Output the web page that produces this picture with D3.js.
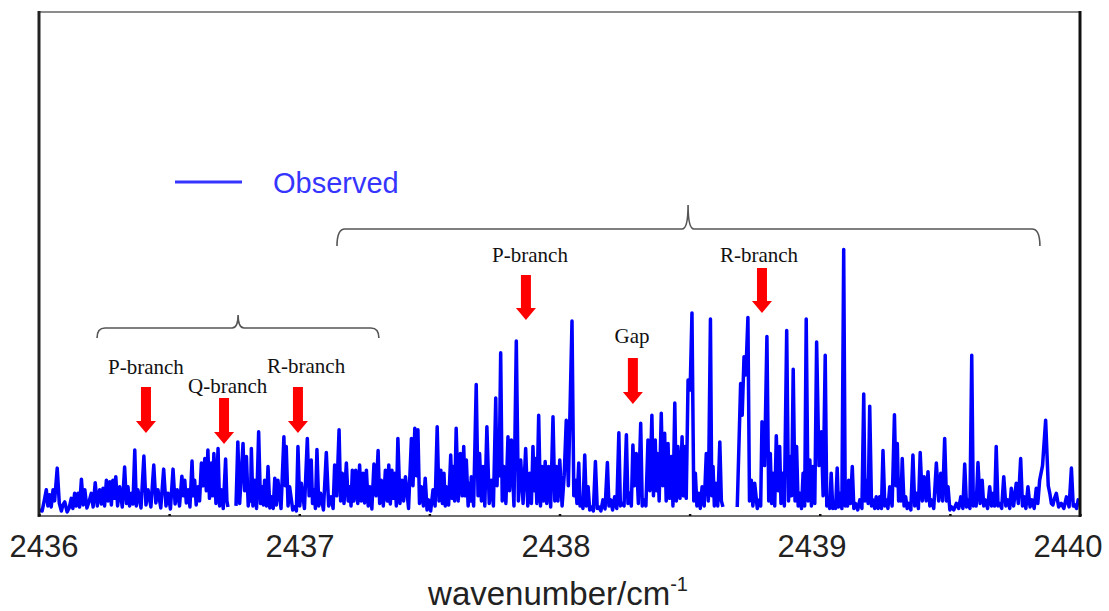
<!DOCTYPE html>
<html>
<head>
<meta charset="utf-8">
<script src="https://cdn.jsdelivr.net/npm/d3@7"></script>
<style>
  html, body { margin: 0; padding: 0; background: #fff; }
  svg { display: block; }
</style>
</head>
<body>
<div id="chart"></div>
<script>
// spectrum traces, [wavenumber, intensity (a.u.)], three pieces separated by data gaps
const segmentA = [
  [2436.000,1.2],[2436.012,1.0],[2436.020,3.0],[2436.028,5.2],[2436.034,2.0],[2436.041,4.2],[2436.047,1.8],[2436.054,5.2],[2436.060,3.0],[2436.070,9.5],
  [2436.078,2.5],[2436.086,1.0],[2436.092,2.2],[2436.099,2.8],[2436.108,0.8],[2436.116,1.6],[2436.124,3.5],[2436.130,1.5],[2436.137,4.5],[2436.143,2.0],
  [2436.150,4.5],[2436.156,1.8],[2436.163,7.3],[2436.170,2.2],[2436.176,5.2],[2436.184,1.6],[2436.192,2.8],[2436.201,4.5],[2436.208,1.8],[2436.216,6.6],
  [2436.224,2.0],[2436.233,5.2],[2436.240,2.4],[2436.246,5.5],[2436.252,2.0],[2436.259,7.1],[2436.265,3.0],[2436.272,6.8],[2436.278,2.2],[2436.284,7.1],
  [2436.290,3.5],[2436.295,7.8],[2436.302,2.0],[2436.310,5.8],[2436.320,1.8],[2436.329,9.7],[2436.336,2.5],[2436.342,5.8],[2436.348,2.0],[2436.355,4.5],
  [2436.361,2.4],[2436.368,13.1],[2436.374,2.0],[2436.380,5.2],[2436.392,1.6],[2436.403,11.9],[2436.411,2.2],[2436.419,5.2],[2436.430,1.8],[2436.441,10.1],
  [2436.449,2.6],[2436.457,5.2],[2436.468,1.6],[2436.479,9.3],[2436.488,2.0],[2436.496,4.5],[2436.505,1.4],[2436.515,9.3],[2436.523,2.4],[2436.531,5.2],
  [2436.540,2.0],[2436.549,7.9],[2436.555,4.0],[2436.560,7.1],[2436.566,2.6],[2436.573,5.2],[2436.580,1.8],[2436.588,10.9],[2436.593,4.0],[2436.598,7.1],
  [2436.604,2.2],[2436.611,5.8],[2436.617,3.0],[2436.624,10.5],[2436.630,6.0],[2436.637,11.4],[2436.643,5.0],[2436.649,13.1],[2436.655,3.5],[2436.662,10.5],
  [2436.667,4.0],[2436.672,12.4],[2436.680,2.5],[2436.688,13.4],[2436.694,2.0],[2436.700,5.2],[2436.708,1.5],[2436.717,11.3],[2436.722,3.0],[2436.726,1.8]
];

const segmentB = [
  [2436.757,2.0],[2436.764,14.7],[2436.771,2.5],[2436.784,14.4],[2436.790,5.0],[2436.797,11.8],[2436.804,2.0],[2436.810,5.2],[2436.813,3.0],[2436.816,13.4],
  [2436.822,2.0],[2436.829,7.1],[2436.836,1.5],[2436.844,16.7],[2436.851,2.5],[2436.857,5.8],[2436.862,2.2],[2436.867,7.1],[2436.874,2.0],[2436.880,9.8],
  [2436.887,1.6],[2436.893,3.8],[2436.900,1.5],[2436.906,7.5],[2436.912,2.2],[2436.918,7.1],[2436.930,1.5],[2436.941,15.7],[2436.946,6.0],[2436.950,13.8],
  [2436.957,2.0],[2436.963,5.8],[2436.975,1.2],[2436.983,1.8],[2436.989,1.0],[2436.995,13.8],[2437.002,2.0],[2437.008,6.5],[2437.020,1.5],[2437.031,15.4],
  [2437.038,4.0],[2437.046,11.1],[2437.051,2.5],[2437.057,5.2],[2437.062,1.5],[2437.068,13.2],[2437.075,2.0],[2437.082,4.5],[2437.093,1.2],[2437.104,12.6],
  [2437.113,2.0],[2437.123,3.8],[2437.130,1.5],[2437.136,10.1],[2437.144,4.0],[2437.153,17.1],[2437.159,3.0],[2437.165,8.5],[2437.172,2.5],[2437.181,10.5],
  [2437.188,3.0],[2437.194,5.8],[2437.199,2.0],[2437.204,9.1],[2437.210,3.0],[2437.217,9.1],[2437.225,2.5],[2437.232,10.1],[2437.238,3.0],[2437.245,8.5],
  [2437.251,2.6],[2437.258,9.1],[2437.265,2.0],[2437.271,5.8],[2437.279,1.4],[2437.287,10.3],[2437.295,4.0],[2437.303,13.0],[2437.309,2.5],[2437.315,7.1],
  [2437.323,2.0],[2437.331,9.1],[2437.338,3.0],[2437.344,10.1],[2437.350,2.4],[2437.356,9.1],[2437.362,3.5],[2437.367,8.5],[2437.373,2.0],[2437.379,15.4],
  [2437.387,2.5],[2437.395,7.1],[2437.401,3.0],[2437.408,7.8],[2437.420,1.5],[2437.431,15.4],[2437.437,6.0],[2437.444,17.4],[2437.450,8.0],[2437.456,17.1],
  [2437.462,2.5],[2437.469,5.8],[2437.477,2.0],[2437.484,7.5],[2437.491,1.2],[2437.497,3.2],[2437.505,1.0],[2437.514,5.2],[2437.522,2.0],[2437.530,17.7],
  [2437.537,3.0],[2437.544,9.1],[2437.550,2.5],[2437.556,8.5],[2437.561,2.0],[2437.565,5.8],[2437.574,2.2],[2437.582,12.1],[2437.587,3.5],[2437.591,9.8],
  [2437.597,3.0],[2437.603,17.4],[2437.611,3.0],[2437.619,12.4],[2437.626,4.0],[2437.632,13.8],[2437.637,4.0],[2437.642,11.1],[2437.649,2.0],[2437.655,6.5],
  [2437.658,3.0],[2437.661,7.8],[2437.670,2.0],[2437.680,26.1],[2437.687,4.0],[2437.693,12.4],[2437.700,3.0],[2437.706,9.8],[2437.713,2.0],[2437.721,17.7],
  [2437.730,2.5],[2437.738,7.1],[2437.746,2.0],[2437.755,23.4],[2437.760,6.0],[2437.764,15.1],[2437.768,8.0],[2437.774,32.4],[2437.780,3.0],[2437.786,9.8],
  [2437.794,2.5],[2437.802,15.7],[2437.808,5.0],[2437.815,15.1],[2437.825,2.0],[2437.834,34.7],[2437.842,3.0],[2437.851,11.1],[2437.860,2.5],[2437.870,13.4],
  [2437.878,2.0],[2437.886,8.5],[2437.892,2.5],[2437.898,13.8],[2437.903,5.0],[2437.907,11.4],[2437.913,2.5],[2437.920,20.0],[2437.927,2.0],[2437.933,9.8],
  [2437.939,3.0],[2437.945,10.8],[2437.951,2.5],[2437.958,9.8],[2437.966,1.8],[2437.975,19.7],[2437.982,3.0],[2437.988,9.8],[2437.994,3.0],[2438.001,11.1],
  [2438.010,2.0],[2438.018,8.0],[2438.026,19.0],[2438.034,6.0],[2438.048,38.7],[2438.055,4.0],[2438.061,7.1],[2438.067,2.5],[2438.074,10.5],[2438.079,2.0],
  [2438.084,3.2],[2438.090,1.5],[2438.097,12.1],[2438.103,2.0],[2438.110,5.8],[2438.116,1.2],[2438.122,1.8],[2438.130,1.0],[2438.138,10.8],[2438.145,1.5],
  [2438.151,1.8],[2438.159,1.0],[2438.167,3.2],[2438.175,1.4],[2438.184,10.6],[2438.190,2.0],[2438.197,3.2],[2438.204,1.2],[2438.212,3.8],[2438.220,1.5],
  [2438.228,16.5],[2438.234,2.0],[2438.240,2.5],[2438.248,2.0],[2438.257,16.1],[2438.263,2.5],[2438.270,4.5],[2438.276,2.0],[2438.282,14.1],[2438.288,6.0],
  [2438.295,12.4],[2438.303,2.5],[2438.312,18.4],[2438.318,2.0],[2438.325,3.2],[2438.332,2.0],[2438.340,15.1],[2438.347,5.0],[2438.355,20.0],[2438.361,4.0],
  [2438.368,15.1],[2438.372,5.0],[2438.376,12.4],[2438.383,3.0],[2438.391,20.4],[2438.397,6.0],[2438.404,16.4],[2438.410,3.0],[2438.417,14.4],[2438.423,3.5],
  [2438.430,11.8],[2438.436,2.0],[2438.443,22.4],[2438.449,3.0],[2438.455,13.8],[2438.463,3.5],[2438.471,15.7],[2438.476,4.0],[2438.481,13.8],[2438.487,3.5],
  [2438.494,27.0],[2438.502,25.0],[2438.509,40.3],[2438.516,3.0],[2438.522,8.5],[2438.528,2.0],[2438.535,4.5],[2438.541,1.5],[2438.548,5.8],[2438.556,2.0],
  [2438.564,12.4],[2438.572,3.0],[2438.580,39.1],[2438.585,4.0],[2438.590,9.8],[2438.595,2.0],[2438.600,6.5],[2438.608,2.0],[2438.616,14.7],[2438.622,3.0],
  [2438.628,1.8]
];

const segmentC = [
  [2438.683,1.8],[2438.696,26.3],[2438.702,20.0],[2438.709,31.6],[2438.716,28.0],[2438.724,39.4],[2438.730,3.0],[2438.737,7.1],[2438.743,2.0],[2438.750,6.5],
  [2438.760,1.5],[2438.769,3.2],[2438.773,2.0],[2438.778,18.7],[2438.788,10.0],[2438.797,35.6],[2438.804,3.0],[2438.810,12.4],[2438.815,2.5],[2438.820,8.5],
  [2438.827,2.0],[2438.833,15.9],[2438.840,5.0],[2438.846,13.8],[2438.851,2.5],[2438.856,8.5],[2438.864,2.0],[2438.873,36.8],[2438.880,3.0],[2438.887,11.8],
  [2438.892,4.0],[2438.898,29.1],[2438.905,3.0],[2438.911,13.8],[2438.917,2.0],[2438.923,4.5],[2438.930,1.5],[2438.936,8.5],[2438.942,2.0],[2438.948,39.1],
  [2438.955,3.0],[2438.962,11.1],[2438.968,2.0],[2438.974,9.8],[2438.981,2.5],[2438.988,34.5],[2438.997,10.0],[2439.006,16.7],[2439.013,4.0],[2439.021,31.9],
  [2439.027,2.0],[2439.032,3.2],[2439.038,1.5],[2439.044,8.5],[2439.050,1.5],[2439.055,2.5],[2439.061,1.5],[2439.067,9.5],[2439.072,1.8],[2439.077,4.5],
  [2439.085,1.5],[2439.092,52.9],[2439.098,2.0],[2439.102,4.5],[2439.107,2.0],[2439.111,7.1],[2439.118,2.5],[2439.125,9.8],[2439.131,1.5],[2439.137,2.5],
  [2439.146,1.2],[2439.154,3.2],[2439.162,1.5],[2439.169,24.2],[2439.174,3.0],[2439.179,7.1],[2439.186,2.5],[2439.192,21.8],[2439.199,2.0],[2439.205,3.2],
  [2439.211,1.5],[2439.217,3.8],[2439.224,1.5],[2439.230,3.8],[2439.237,1.5],[2439.243,13.0],[2439.250,2.0],[2439.256,3.2],[2439.262,1.5],[2439.269,5.8],
  [2439.278,2.0],[2439.287,20.1],[2439.293,6.0],[2439.298,14.4],[2439.303,3.0],[2439.307,7.1],[2439.312,3.0],[2439.317,11.4],[2439.324,2.0],[2439.330,3.8],
  [2439.336,1.5],[2439.342,2.5],[2439.350,1.2],[2439.358,12.1],[2439.365,2.0],[2439.371,4.5],[2439.379,1.5],[2439.386,12.6],[2439.394,3.0],[2439.401,7.8],
  [2439.409,3.0],[2439.416,8.8],[2439.423,2.0],[2439.429,3.2],[2439.438,1.5],[2439.448,10.5],[2439.457,3.0],[2439.465,8.5],[2439.472,3.0],[2439.480,15.4],
  [2439.487,3.0],[2439.493,5.8],[2439.500,1.2],[2439.506,1.8],[2439.515,1.2],[2439.525,2.5],[2439.534,1.5],[2439.542,3.8],[2439.550,1.5],[2439.557,10.3],
  [2439.564,1.8],[2439.570,3.2],[2439.577,1.5],[2439.584,31.9],[2439.590,2.0],[2439.595,4.5],[2439.601,2.0],[2439.608,10.6],[2439.616,2.5],[2439.624,7.1],
  [2439.630,2.0],[2439.636,3.2],[2439.645,1.5],[2439.653,5.8],[2439.660,2.0],[2439.666,4.5],[2439.672,2.0],[2439.678,13.8],[2439.685,2.0],[2439.691,2.5],
  [2439.699,1.5],[2439.707,7.8],[2439.715,2.0],[2439.723,3.2],[2439.730,1.5],[2439.736,5.5],[2439.745,2.0],[2439.755,6.5],[2439.763,2.5],[2439.772,11.4],
  [2439.779,2.0],[2439.785,3.8],[2439.792,1.5],[2439.800,5.8],[2439.808,1.8],[2439.816,3.2],[2439.824,1.5],[2439.832,5.5],[2439.838,2.5],[2439.845,7.1],
  [2439.856,10.0],[2439.868,19.0],[2439.878,6.0],[2439.884,4.5],[2439.890,2.5],[2439.896,2.2],[2439.902,3.5],[2439.909,4.5],[2439.918,1.8],[2439.928,2.5],
  [2439.938,1.5],[2439.948,3.8],[2439.958,1.8],[2439.967,9.5],[2439.974,2.0],[2439.980,2.2],[2439.987,1.5],[2439.993,3.2],[2440.000,2.2]
];

const tickValues = [2436, 2436.5, 2437, 2437.5, 2438, 2438.5, 2439, 2439.5, 2440];
const tickLabels = [2436, 2437, 2438, 2439, 2440];

// annotations (wavenumber positions of the arrows / braces)
const arrowsAt = [2436.411, 2436.711, 2436.995, 2437.871, 2438.282, 2438.778];
const bracketSmall = [2436.223, 2436.765, 2437.306];
const bracketBig = [2437.145, 2438.494, 2439.846];

const width = 1109, height = 611;
const svg = d3.select("#chart").append("svg").attr("width", width).attr("height", height);

const x = d3.scaleLinear().domain([2436, 2440]).range([39, 1080]);
const y = d3.scaleLinear().domain([0, 100]).range([516, 12]);
// the tick numbers sit a bit inside the frame ends in the original
const xLabel = d3.scaleLinear().domain([2436, 2440]).range([44, 1068]);

svg.append("defs").append("clipPath").attr("id", "plot")
    .append("rect").attr("x", 39).attr("y", 12).attr("width", 1041).attr("height", 503);

const line = d3.line().x(d => x(d[0])).y(d => y(d[1]));
svg.append("g").attr("clip-path", "url(#plot)")
    .selectAll("path").data([segmentA, segmentB, segmentC]).enter().append("path")
    .attr("d", line).attr("fill", "none").attr("stroke", "#0000ff")
    .attr("stroke-width", 3.5).attr("stroke-linejoin", "round");

// frame
svg.append("line").attr("x1", 38).attr("x2", 1081).attr("y1", 12).attr("y2", 12).attr("stroke", "#8c8c8c").attr("stroke-width", 2);
svg.append("line").attr("x1", 38).attr("x2", 1081).attr("y1", 516).attr("y2", 516).attr("stroke", "#6e6e6e").attr("stroke-width", 2);
svg.append("line").attr("x1", 39).attr("x2", 39).attr("y1", 11).attr("y2", 517).attr("stroke", "#222").attr("stroke-width", 3);
svg.append("line").attr("x1", 1080).attr("x2", 1080).attr("y1", 11).attr("y2", 517).attr("stroke", "#111").attr("stroke-width", 3);

const axis = svg.append("g").attr("transform", "translate(0,516)")
    .call(d3.axisBottom(x).tickValues(tickValues).tickSize(-2).tickFormat(""));
axis.select(".domain").remove();
axis.selectAll(".tick line").attr("stroke", "#111").attr("stroke-width", 2.5);

svg.selectAll(".tlabel").data(tickLabels).enter().append("text")
    .attr("class", "tlabel").attr("x", d => xLabel(d)).attr("y", 557)
    .attr("text-anchor", "middle").attr("font-family", "Liberation Sans, Arial, sans-serif")
    .attr("font-size", 31).attr("fill", "#222").text(d => d);

const title = svg.append("text").attr("x", 558).attr("y", 605).attr("text-anchor", "middle")
    .attr("font-family", "Liberation Sans, Arial, sans-serif").attr("font-size", 33).attr("fill", "#222");
title.append("tspan").text("wavenumber/cm");
title.append("tspan").attr("font-size", 20).attr("dy", -14).text("-1");

// legend
svg.append("line").attr("x1", 175).attr("x2", 242).attr("y1", 182).attr("y2", 182)
    .attr("stroke", "#3535ff").attr("stroke-width", 3);
svg.append("text").attr("x", 273).attr("y", 193).attr("font-family", "Liberation Sans, Arial, sans-serif")
    .attr("font-size", 29).attr("fill", "#3535ff").text("Observed");

// braces
function brace(b, yLine, yEnd, yTip) {
    const [a, m, c] = b.map(x);
    return `M${a},${yEnd} Q${a},${yLine} ${a + 8},${yLine} L${m - 6},${yLine} Q${m},${yLine} ${m},${yTip}` +
        ` Q${m},${yLine} ${m + 6},${yLine} L${c - 8},${yLine} Q${c},${yLine} ${c},${yEnd}`;
}
svg.append("path").attr("d", brace(bracketSmall, 328, 338, 315))
    .attr("fill", "none").attr("stroke", "#555").attr("stroke-width", 1.6);
svg.append("path").attr("d", brace(bracketBig, 229, 246, 205))
    .attr("fill", "none").attr("stroke", "#555").attr("stroke-width", 1.6);

// red arrows: [top, tip] in pixels
const arrowY = [[387, 433], [398, 444], [387, 433], [275, 320], [358, 404], [268, 313]];
svg.selectAll(".arrow").data(arrowsAt).enter().append("path").attr("class", "arrow")
    .attr("d", (d, i) => {
        const cx = x(d), t = arrowY[i][0], tip = arrowY[i][1], h = tip - 12;
        return `M${cx - 5},${t} L${cx + 5},${t} L${cx + 5},${h} L${cx + 10},${h} L${cx},${tip} L${cx - 10},${h} L${cx - 5},${h} Z`;
    })
    .attr("fill", "#ff0000");

const labels = [
    {text: "P-branch", x: 108, y: 374, anchor: "start"},
    {text: "Q-branch", x: 188, y: 393, anchor: "start"},
    {text: "R-branch", x: 267, y: 373, anchor: "start"},
    {text: "P-branch", x: 530, y: 262, anchor: "middle"},
    {text: "Gap", x: 632, y: 343, anchor: "middle"},
    {text: "R-branch", x: 759, y: 262, anchor: "middle"}
];
svg.selectAll(".blabel").data(labels).enter().append("text").attr("class", "blabel")
    .attr("x", d => d.x).attr("y", d => d.y).attr("text-anchor", d => d.anchor)
    .attr("font-family", "Liberation Serif, Times New Roman, serif").attr("font-size", 21)
    .attr("fill", "#111").text(d => d.text);
</script>
</body>
</html>
